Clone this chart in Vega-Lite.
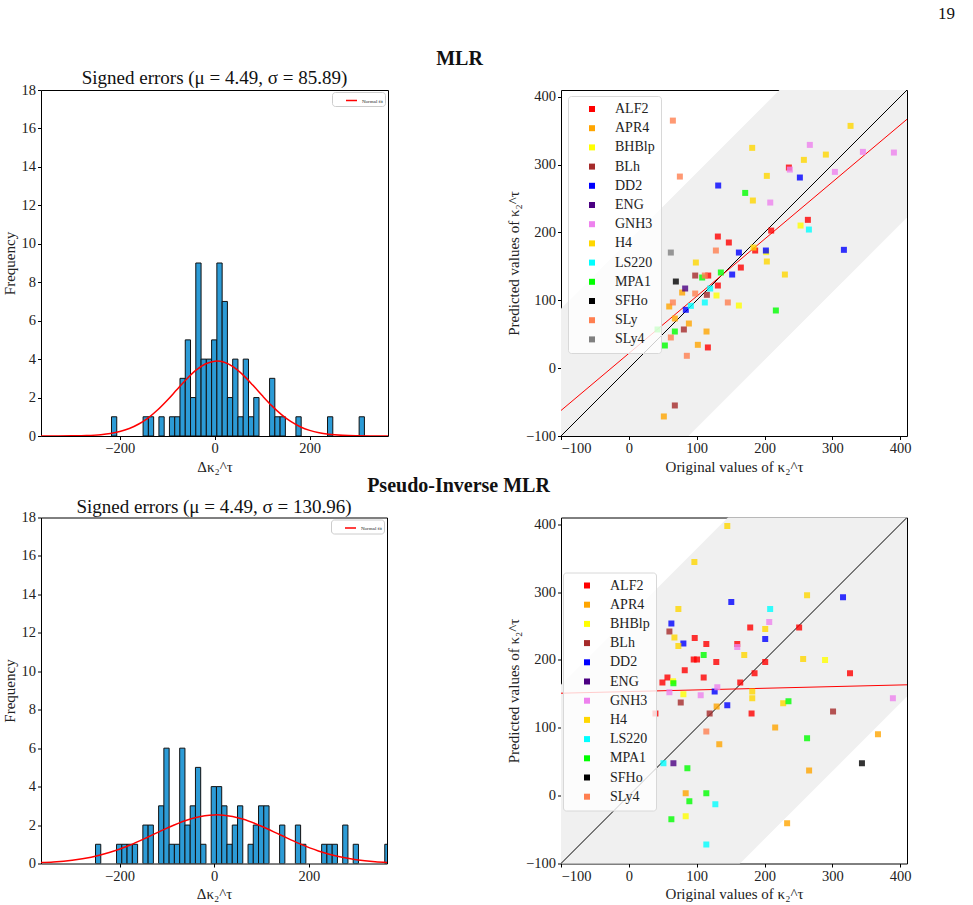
{
  "$schema": "https://vega.github.io/schema/vega-lite/v6.json",
  "background": "white",
  "autosize": {"type": "none"},
  "padding": {"left": 41, "top": 90, "right": 932, "bottom": 815},
  "title": {"text": "19", "anchor": "end", "frame": "group", "fontSize": 17, "fontWeight": "normal", "dx": 914, "dy": -21},
  "datasets": {
    "hist_mlr": [
      {"b0": -217.5, "b1": -206.4, "n": 1}, {"b0": -150.9, "b1": -139.8, "n": 1}, {"b0": -139.8, "b1": -128.7, "n": 1},
      {"b0": -117.6, "b1": -106.5, "n": 1}, {"b0": -95.4, "b1": -84.3, "n": 1}, {"b0": -84.3, "b1": -73.2, "n": 1},
      {"b0": -73.2, "b1": -62.1, "n": 3}, {"b0": -62.1, "b1": -51.0, "n": 5}, {"b0": -51.0, "b1": -39.9, "n": 2},
      {"b0": -39.9, "b1": -28.8, "n": 9}, {"b0": -28.8, "b1": -17.7, "n": 4}, {"b0": -17.7, "b1": -6.6, "n": 4},
      {"b0": -6.6, "b1": 4.5, "n": 5}, {"b0": 4.5, "b1": 15.6, "n": 9}, {"b0": 15.6, "b1": 26.7, "n": 7},
      {"b0": 26.7, "b1": 37.8, "n": 2}, {"b0": 37.8, "b1": 48.9, "n": 4}, {"b0": 48.9, "b1": 60.0, "n": 1},
      {"b0": 60.0, "b1": 71.1, "n": 4}, {"b0": 71.1, "b1": 82.2, "n": 1}, {"b0": 82.2, "b1": 93.3, "n": 2},
      {"b0": 115.5, "b1": 126.6, "n": 3}, {"b0": 126.6, "b1": 137.7, "n": 1}, {"b0": 137.7, "b1": 148.8, "n": 1},
      {"b0": 171.0, "b1": 182.1, "n": 1}, {"b0": 237.6, "b1": 248.7, "n": 1}, {"b0": 304.2, "b1": 315.3, "n": 1}
    ],
    "fit_mlr": [
      {"x": -366, "y": 0.0004, "series": "Normal fit"}, {"x": -330, "y": 0.002, "series": "Normal fit"},
      {"x": -300, "y": 0.0073, "series": "Normal fit"}, {"x": -270, "y": 0.0236, "series": "Normal fit"},
      {"x": -240, "y": 0.068, "series": "Normal fit"}, {"x": -220, "y": 0.128, "series": "Normal fit"},
      {"x": -200, "y": 0.229, "series": "Normal fit"}, {"x": -180, "y": 0.388, "series": "Normal fit"},
      {"x": -160, "y": 0.623, "series": "Normal fit"}, {"x": -140, "y": 0.948, "series": "Normal fit"},
      {"x": -120, "y": 1.364, "series": "Normal fit"}, {"x": -100, "y": 1.861, "series": "Normal fit"},
      {"x": -80, "y": 2.404, "series": "Normal fit"}, {"x": -60, "y": 2.942, "series": "Normal fit"},
      {"x": -40, "y": 3.41, "series": "Normal fit"}, {"x": -20, "y": 3.744, "series": "Normal fit"},
      {"x": 0, "y": 3.895, "series": "Normal fit"}, {"x": 4.5, "y": 3.9, "series": "Normal fit"},
      {"x": 20, "y": 3.837, "series": "Normal fit"}, {"x": 40, "y": 3.581, "series": "Normal fit"},
      {"x": 60, "y": 3.166, "series": "Normal fit"}, {"x": 80, "y": 2.651, "series": "Normal fit"},
      {"x": 100, "y": 2.102, "series": "Normal fit"}, {"x": 120, "y": 1.579, "series": "Normal fit"},
      {"x": 140, "y": 1.124, "series": "Normal fit"}, {"x": 160, "y": 0.757, "series": "Normal fit"},
      {"x": 180, "y": 0.483, "series": "Normal fit"}, {"x": 200, "y": 0.292, "series": "Normal fit"},
      {"x": 220, "y": 0.167, "series": "Normal fit"}, {"x": 240, "y": 0.091, "series": "Normal fit"},
      {"x": 270, "y": 0.033, "series": "Normal fit"}, {"x": 300, "y": 0.0105, "series": "Normal fit"},
      {"x": 330, "y": 0.003, "series": "Normal fit"}, {"x": 365, "y": 0.0006, "series": "Normal fit"}
    ],
    "hist_pinv": [
      {"b0": -250.8, "b1": -239.7, "n": 1}, {"b0": -206.4, "b1": -195.3, "n": 1}, {"b0": -195.3, "b1": -184.2, "n": 1},
      {"b0": -184.2, "b1": -173.0, "n": 1}, {"b0": -173.0, "b1": -161.9, "n": 1}, {"b0": -150.8, "b1": -139.7, "n": 2},
      {"b0": -139.7, "b1": -128.6, "n": 2}, {"b0": -117.5, "b1": -106.4, "n": 3}, {"b0": -106.4, "b1": -95.3, "n": 6},
      {"b0": -95.3, "b1": -84.2, "n": 1}, {"b0": -84.2, "b1": -73.0, "n": 1}, {"b0": -73.0, "b1": -61.9, "n": 6},
      {"b0": -61.9, "b1": -50.8, "n": 2}, {"b0": -50.8, "b1": -39.7, "n": 3}, {"b0": -39.7, "b1": -28.6, "n": 5},
      {"b0": -28.6, "b1": -17.5, "n": 1}, {"b0": -6.4, "b1": 4.7, "n": 4}, {"b0": 4.7, "b1": 15.8, "n": 4},
      {"b0": 15.8, "b1": 26.9, "n": 3}, {"b0": 26.9, "b1": 38.1, "n": 1}, {"b0": 38.1, "b1": 49.2, "n": 2},
      {"b0": 49.2, "b1": 60.3, "n": 3}, {"b0": 71.4, "b1": 82.5, "n": 1}, {"b0": 82.5, "b1": 93.6, "n": 2},
      {"b0": 93.6, "b1": 104.7, "n": 3}, {"b0": 104.7, "b1": 115.8, "n": 3}, {"b0": 138.1, "b1": 149.2, "n": 2},
      {"b0": 171.4, "b1": 182.5, "n": 2}, {"b0": 182.5, "b1": 193.6, "n": 1}, {"b0": 226.9, "b1": 238.0, "n": 1},
      {"b0": 238.0, "b1": 249.2, "n": 1}, {"b0": 249.2, "b1": 260.3, "n": 1}, {"b0": 271.4, "b1": 282.5, "n": 2},
      {"b0": 293.6, "b1": 304.7, "n": 1}, {"b0": 360.3, "b1": 371.4, "n": 1}
    ],
    "fit_pinv": [
      {"x": -366, "y": 0.046, "series": "Normal fit"}, {"x": -340, "y": 0.0795, "series": "Normal fit"},
      {"x": -300, "y": 0.17, "series": "Normal fit"}, {"x": -260, "y": 0.329, "series": "Normal fit"},
      {"x": -220, "y": 0.582, "series": "Normal fit"}, {"x": -180, "y": 0.938, "series": "Normal fit"},
      {"x": -140, "y": 1.376, "series": "Normal fit"}, {"x": -100, "y": 1.84, "series": "Normal fit"},
      {"x": -60, "y": 2.241, "series": "Normal fit"}, {"x": -20, "y": 2.486, "series": "Normal fit"},
      {"x": 0, "y": 2.528, "series": "Normal fit"}, {"x": 4.5, "y": 2.53, "series": "Normal fit"},
      {"x": 20, "y": 2.512, "series": "Normal fit"}, {"x": 60, "y": 2.313, "series": "Normal fit"},
      {"x": 100, "y": 1.939, "series": "Normal fit"}, {"x": 140, "y": 1.482, "series": "Normal fit"},
      {"x": 180, "y": 1.031, "series": "Normal fit"}, {"x": 220, "y": 0.653, "series": "Normal fit"},
      {"x": 260, "y": 0.377, "series": "Normal fit"}, {"x": 300, "y": 0.198, "series": "Normal fit"},
      {"x": 340, "y": 0.095, "series": "Normal fit"}, {"x": 365, "y": 0.057, "series": "Normal fit"}
    ],
    "band_mlr": [{"x": -100, "lo": -288, "hi": 88}, {"x": 410, "lo": 222, "hi": 598}],
    "band_pinv": [{"x": -100, "lo": -364, "hi": 164}, {"x": 410, "lo": 146, "hi": 674}],
    "diag": [{"x": -100, "y": -100}, {"x": 410, "y": 410}],
    "reg_mlr": [{"x": -100, "y": -62.4}, {"x": 410, "y": 366.9}],
    "reg_pinv": [{"x": -100, "y": 151.0}, {"x": 410, "y": 163.4}],
    "pts_mlr": [
      {"eos": "ALF2", "x": 235.9, "y": 295.7}, {"eos": "ALF2", "x": 263.9, "y": 218.6}, {"eos": "ALF2", "x": 209.8, "y": 202.8},
      {"eos": "ALF2", "x": 131.2, "y": 194.0}, {"eos": "ALF2", "x": 147.4, "y": 185.2}, {"eos": "ALF2", "x": 186.2, "y": 173.4},
      {"eos": "ALF2", "x": 165.1, "y": 148.3}, {"eos": "ALF2", "x": 117.0, "y": 136.5}, {"eos": "ALF2", "x": 131.2, "y": 121.8},
      {"eos": "ALF2", "x": 116.5, "y": 30.5},
      {"eos": "APR4", "x": 78.6, "y": 111.5}, {"eos": "APR4", "x": 59.5, "y": 90.9}, {"eos": "APR4", "x": 67.8, "y": 73.2},
      {"eos": "APR4", "x": 88.5, "y": 65.8}, {"eos": "APR4", "x": 114.5, "y": 54.0}, {"eos": "APR4", "x": 101.7, "y": 34.4},
      {"eos": "APR4", "x": 51.6, "y": -71.2},
      {"eos": "BHBlp", "x": 253.1, "y": 210.2}, {"eos": "BHBlp", "x": 129.2, "y": 107.1}, {"eos": "BHBlp", "x": 162.2, "y": 92.3},
      {"eos": "BHBlp", "x": 202.5, "y": 171.0},
      {"eos": "BLh", "x": 97.8, "y": 136.5}, {"eos": "BLh", "x": 115.0, "y": 108.1}, {"eos": "BLh", "x": 81.1, "y": 57.0},
      {"eos": "BLh", "x": 67.8, "y": -55.0},
      {"eos": "DD2", "x": 131.7, "y": 269.2}, {"eos": "DD2", "x": 252.1, "y": 281.0}, {"eos": "DD2", "x": 162.2, "y": 170.4},
      {"eos": "DD2", "x": 202.0, "y": 173.4}, {"eos": "DD2", "x": 152.3, "y": 138.0}, {"eos": "DD2", "x": 84.0, "y": 86.0},
      {"eos": "DD2", "x": 317.0, "y": 174.4},
      {"eos": "ENG", "x": 83.0, "y": 117.4},
      {"eos": "GNH3", "x": 266.8, "y": 329.1}, {"eos": "GNH3", "x": 237.3, "y": 292.7}, {"eos": "GNH3", "x": 345.0, "y": 318.8},
      {"eos": "GNH3", "x": 390.7, "y": 317.8}, {"eos": "GNH3", "x": 303.7, "y": 289.3}, {"eos": "GNH3", "x": 208.4, "y": 244.1},
      {"eos": "H4", "x": 326.8, "y": 357.1}, {"eos": "H4", "x": 181.8, "y": 324.7}, {"eos": "H4", "x": 258.0, "y": 307.0},
      {"eos": "H4", "x": 290.4, "y": 314.8}, {"eos": "H4", "x": 203.4, "y": 283.4}, {"eos": "H4", "x": 182.8, "y": 247.1},
      {"eos": "H4", "x": 183.8, "y": 177.8}, {"eos": "H4", "x": 98.8, "y": 155.7}, {"eos": "H4", "x": 203.4, "y": 157.2},
      {"eos": "H4", "x": 230.0, "y": 138.0},
      {"eos": "LS220", "x": 265.4, "y": 204.3}, {"eos": "LS220", "x": 119.9, "y": 117.4}, {"eos": "LS220", "x": 112.0, "y": 96.8},
      {"eos": "LS220", "x": 91.4, "y": 91.8},
      {"eos": "MPA1", "x": 171.5, "y": 258.3}, {"eos": "MPA1", "x": 135.6, "y": 141.0}, {"eos": "MPA1", "x": 108.1, "y": 133.6},
      {"eos": "MPA1", "x": 216.7, "y": 85.0}, {"eos": "MPA1", "x": 42.3, "y": 57.0}, {"eos": "MPA1", "x": 67.8, "y": 54.0},
      {"eos": "MPA1", "x": 53.1, "y": 33.4},
      {"eos": "SFHo", "x": 69.3, "y": 127.7},
      {"eos": "SLy", "x": 64.9, "y": 364.9}, {"eos": "SLy", "x": 75.2, "y": 282.4}, {"eos": "SLy", "x": 128.3, "y": 173.4},
      {"eos": "SLy", "x": 112.0, "y": 136.5}, {"eos": "SLy", "x": 97.8, "y": 110.0}, {"eos": "SLy", "x": 64.9, "y": 96.8},
      {"eos": "SLy", "x": 145.9, "y": 96.8}, {"eos": "SLy", "x": 61.9, "y": 45.2}, {"eos": "SLy", "x": 85.5, "y": 18.2},
      {"eos": "SLy4", "x": 61.9, "y": 170.4}
    ],
    "pts_pinv": [
      {"eos": "ALF2", "x": 251.0, "y": 248.0}, {"eos": "ALF2", "x": 178.9, "y": 248.0}, {"eos": "ALF2", "x": 97.1, "y": 232.3},
      {"eos": "ALF2", "x": 114.2, "y": 223.4}, {"eos": "ALF2", "x": 159.8, "y": 223.4}, {"eos": "ALF2", "x": 95.6, "y": 200.8},
      {"eos": "ALF2", "x": 100.5, "y": 200.8}, {"eos": "ALF2", "x": 128.9, "y": 196.9}, {"eos": "ALF2", "x": 201.0, "y": 196.9},
      {"eos": "ALF2", "x": 82.4, "y": 185.0}, {"eos": "ALF2", "x": 185.3, "y": 180.6}, {"eos": "ALF2", "x": 326.0, "y": 180.6},
      {"eos": "ALF2", "x": 49.5, "y": 166.8}, {"eos": "ALF2", "x": 56.9, "y": 174.2}, {"eos": "ALF2", "x": 110.3, "y": 174.2},
      {"eos": "ALF2", "x": 164.2, "y": 166.8}, {"eos": "ALF2", "x": 39.2, "y": 121.1}, {"eos": "ALF2", "x": 180.9, "y": 121.1},
      {"eos": "APR4", "x": 129.4, "y": 131.4}, {"eos": "APR4", "x": 215.7, "y": 100.4}, {"eos": "APR4", "x": 133.3, "y": 75.8},
      {"eos": "APR4", "x": 367.2, "y": 90.6}, {"eos": "APR4", "x": 265.7, "y": 36.9}, {"eos": "APR4", "x": 83.8, "y": 3.4},
      {"eos": "APR4", "x": 233.3, "y": -40.8},
      {"eos": "BHBlp", "x": 289.2, "y": 199.8}, {"eos": "BHBlp", "x": 80.4, "y": 149.6}, {"eos": "BHBlp", "x": 83.8, "y": -30.5},
      {"eos": "BHBlp", "x": 65.2, "y": 168.8},
      {"eos": "BLh", "x": 59.8, "y": 242.1}, {"eos": "BLh", "x": 76.5, "y": 137.3}, {"eos": "BLh", "x": 119.1, "y": 121.1},
      {"eos": "BLh", "x": 301.0, "y": 124.0},
      {"eos": "DD2", "x": 151.0, "y": 285.4}, {"eos": "DD2", "x": 315.7, "y": 292.3}, {"eos": "DD2", "x": 62.7, "y": 253.9},
      {"eos": "DD2", "x": 80.4, "y": 224.4}, {"eos": "DD2", "x": 201.0, "y": 230.8}, {"eos": "DD2", "x": 126.5, "y": 153.5},
      {"eos": "DD2", "x": 145.1, "y": 133.4},
      {"eos": "ENG", "x": 65.7, "y": 47.7},
      {"eos": "GNH3", "x": 206.9, "y": 255.9}, {"eos": "GNH3", "x": 159.8, "y": 219.0}, {"eos": "GNH3", "x": 130.4, "y": 159.9},
      {"eos": "GNH3", "x": 59.8, "y": 152.6}, {"eos": "GNH3", "x": 105.9, "y": 148.1}, {"eos": "GNH3", "x": 389.2, "y": 143.7},
      {"eos": "H4", "x": 145.1, "y": 397.6}, {"eos": "H4", "x": 96.6, "y": 344.5}, {"eos": "H4", "x": 262.7, "y": 295.3},
      {"eos": "H4", "x": 73.0, "y": 275.1}, {"eos": "H4", "x": 201.0, "y": 245.6}, {"eos": "H4", "x": 67.2, "y": 233.3},
      {"eos": "H4", "x": 73.0, "y": 220.5}, {"eos": "H4", "x": 170.1, "y": 207.2}, {"eos": "H4", "x": 256.9, "y": 201.3},
      {"eos": "H4", "x": 181.9, "y": 153.5}, {"eos": "H4", "x": 181.9, "y": 143.7}, {"eos": "H4", "x": 227.5, "y": 136.3},
      {"eos": "LS220", "x": 208.3, "y": 275.1}, {"eos": "LS220", "x": 51.0, "y": 47.7}, {"eos": "LS220", "x": 127.5, "y": -12.8},
      {"eos": "LS220", "x": 114.2, "y": -71.9},
      {"eos": "MPA1", "x": 110.3, "y": 207.2}, {"eos": "MPA1", "x": 65.7, "y": 165.8}, {"eos": "MPA1", "x": 235.3, "y": 139.3},
      {"eos": "MPA1", "x": 262.7, "y": 84.6}, {"eos": "MPA1", "x": 86.3, "y": 40.4}, {"eos": "MPA1", "x": 114.2, "y": 3.4},
      {"eos": "MPA1", "x": 89.2, "y": -8.4}, {"eos": "MPA1", "x": 62.7, "y": -34.9},
      {"eos": "SFHo", "x": 343.6, "y": 47.7},
      {"eos": "SLy4", "x": 114.2, "y": 94.5}
    ]
  },
  "columns": 2,
  "spacing": {"row": 81.5, "column": 173},
  "bounds": "flush",
  "resolve": {
    "scale": {"color": "independent", "stroke": "independent"},
    "legend": {"color": "independent", "stroke": "independent"}
  },
  "concat": [
    {
      "width": 347,
      "height": 346,
      "title": {"text": "Signed errors (μ = 4.49, σ = 85.89)", "frame": "group", "offset": 0, "dy": 6},
      "layer": [
        {
          "data": {"name": "hist_mlr"},
          "mark": {"type": "rect", "fill": "#2C9BD6", "stroke": "#111111", "strokeWidth": 1, "clip": true},
          "encoding": {
            "x": {"field": "b0", "type": "quantitative", "scale": {"domain": [-366, 365], "nice": false, "zero": false}, "axis": {"values": [-200, 0, 200], "title": "Δκ₂^τ", "labelOverlap": false}},
            "x2": {"field": "b1"},
            "y": {"field": "n", "type": "quantitative", "scale": {"domain": [0, 18], "nice": false}, "axis": {"values": [0, 2, 4, 6, 8, 10, 12, 14, 16, 18], "title": "Frequency", "labelOverlap": false}},
            "y2": {"datum": 0}
          }
        },
        {
          "data": {"name": "fit_mlr"},
          "mark": {"type": "line", "strokeWidth": 1.5, "interpolate": "monotone", "clip": true},
          "encoding": {
            "x": {"field": "x", "type": "quantitative", "axis": {"values": [-200, 0, 200], "title": "Δκ₂^τ", "labelOverlap": false}},
            "y": {"field": "y", "type": "quantitative", "axis": {"values": [0, 2, 4, 6, 8, 10, 12, 14, 16, 18], "title": "Frequency", "labelOverlap": false}},
            "stroke": {
              "field": "series", "type": "nominal",
              "scale": {"range": ["#FF0000"]},
              "legend": {"orient": "none", "legendX": 291, "legendY": 2, "title": null, "symbolType": "stroke", "symbolSize": 121, "symbolStrokeWidth": 1.5, "labelFontSize": 5, "labelOffset": 4, "padding": 2, "fillColor": "white", "strokeColor": "#cccccc"}
            }
          }
        }
      ]
    },
    {
      "width": 346,
      "height": 346,
      "title": {"text": "MLR", "frame": "group", "anchor": "middle", "fontWeight": "bold", "fontSize": 20, "dx": -274.5, "offset": 20},
      "layer": [
        {
          "data": {"name": "band_mlr"},
          "mark": {"type": "area", "color": "#F0F0F0", "opacity": 1, "clip": true},
          "encoding": {
            "x": {"field": "x", "type": "quantitative", "scale": {"domain": [-100, 410], "nice": false, "zero": false}, "axis": {"values": [-100, 0, 100, 200, 300, 400], "title": "Original values of κ₂^τ"}},
            "y": {"field": "lo", "type": "quantitative", "scale": {"domain": [-100, 410], "nice": false, "zero": false}, "axis": {"values": [-100, 0, 100, 200, 300, 400], "title": "Predicted values of κ₂^τ"}},
            "y2": {"field": "hi"}
          }
        },
        {
          "data": {"name": "diag"},
          "mark": {"type": "line", "color": "#000000", "strokeWidth": 1, "clip": true},
          "encoding": {
            "x": {"field": "x", "type": "quantitative", "axis": {"title": "Original values of κ₂^τ"}},
            "y": {"field": "y", "type": "quantitative", "axis": {"title": "Predicted values of κ₂^τ"}}
          }
        },
        {
          "data": {"name": "reg_mlr"},
          "mark": {"type": "line", "color": "#FF0000", "strokeWidth": 1, "clip": true},
          "encoding": {
            "x": {"field": "x", "type": "quantitative", "axis": {"title": "Original values of κ₂^τ"}},
            "y": {"field": "y", "type": "quantitative", "axis": {"title": "Predicted values of κ₂^τ"}}
          }
        },
        {
          "data": {"name": "pts_mlr"},
          "mark": {"type": "square", "size": 36, "opacity": 0.8, "clip": true},
          "encoding": {
            "x": {"field": "x", "type": "quantitative", "axis": {"title": "Original values of κ₂^τ"}},
            "y": {"field": "y", "type": "quantitative", "axis": {"title": "Predicted values of κ₂^τ"}},
            "color": {
              "field": "eos", "type": "nominal",
              "scale": {
                "domain": ["ALF2", "APR4", "BHBlp", "BLh", "DD2", "ENG", "GNH3", "H4", "LS220", "MPA1", "SFHo", "SLy", "SLy4"],
                "range": ["#FF0000", "#FFA500", "#FFFF00", "#A52A2A", "#0000FF", "#4B0082", "#EE82EE", "#FFD700", "#00FFFF", "#00FF00", "#000000", "#FF7F50", "#808080"]
              },
              "legend": {"orient": "none", "legendX": 7, "legendY": 6}
            }
          }
        }
      ]
    },
    {
      "width": 346,
      "height": 346,
      "title": {"text": "Signed errors (μ = 4.49, σ = 130.96)", "frame": "group", "offset": 0, "dy": 7},
      "layer": [
        {
          "data": {"name": "hist_pinv"},
          "mark": {"type": "rect", "fill": "#2C9BD6", "stroke": "#111111", "strokeWidth": 1, "clip": true},
          "encoding": {
            "x": {"field": "b0", "type": "quantitative", "scale": {"domain": [-366, 365], "nice": false, "zero": false}, "axis": {"values": [-200, 0, 200], "title": "Δκ₂^τ", "labelOverlap": false}},
            "x2": {"field": "b1"},
            "y": {"field": "n", "type": "quantitative", "scale": {"domain": [0, 18], "nice": false}, "axis": {"values": [0, 2, 4, 6, 8, 10, 12, 14, 16, 18], "title": "Frequency", "labelOverlap": false}},
            "y2": {"datum": 0}
          }
        },
        {
          "data": {"name": "fit_pinv"},
          "mark": {"type": "line", "strokeWidth": 1.5, "interpolate": "monotone", "clip": true},
          "encoding": {
            "x": {"field": "x", "type": "quantitative", "axis": {"values": [-200, 0, 200], "title": "Δκ₂^τ", "labelOverlap": false}},
            "y": {"field": "y", "type": "quantitative", "axis": {"values": [0, 2, 4, 6, 8, 10, 12, 14, 16, 18], "title": "Frequency", "labelOverlap": false}},
            "stroke": {
              "field": "series", "type": "nominal",
              "scale": {"range": ["#FF0000"]},
              "legend": {"orient": "none", "legendX": 290, "legendY": 2, "title": null, "symbolType": "stroke", "symbolSize": 121, "symbolStrokeWidth": 1.5, "labelFontSize": 5, "labelOffset": 4, "padding": 2, "fillColor": "white", "strokeColor": "#cccccc"}
            }
          }
        }
      ]
    },
    {
      "width": 346,
      "height": 346,
      "title": {"text": "Pseudo-Inverse MLR", "frame": "group", "anchor": "middle", "fontWeight": "bold", "fontSize": 20, "dx": -275.5, "offset": 20},
      "layer": [
        {
          "data": {"name": "band_pinv"},
          "mark": {"type": "area", "color": "#F0F0F0", "opacity": 1, "clip": true},
          "encoding": {
            "x": {"field": "x", "type": "quantitative", "scale": {"domain": [-100, 410], "nice": false, "zero": false}, "axis": {"values": [-100, 0, 100, 200, 300, 400], "title": "Original values of κ₂^τ"}},
            "y": {"field": "lo", "type": "quantitative", "scale": {"domain": [-100, 410], "nice": false, "zero": false}, "axis": {"values": [-100, 0, 100, 200, 300, 400], "title": "Predicted values of κ₂^τ"}},
            "y2": {"field": "hi"}
          }
        },
        {
          "data": {"name": "diag"},
          "mark": {"type": "line", "color": "#000000", "strokeWidth": 1, "clip": true},
          "encoding": {
            "x": {"field": "x", "type": "quantitative", "axis": {"title": "Original values of κ₂^τ"}},
            "y": {"field": "y", "type": "quantitative", "axis": {"title": "Predicted values of κ₂^τ"}}
          }
        },
        {
          "data": {"name": "reg_pinv"},
          "mark": {"type": "line", "color": "#FF0000", "strokeWidth": 1, "clip": true},
          "encoding": {
            "x": {"field": "x", "type": "quantitative", "axis": {"title": "Original values of κ₂^τ"}},
            "y": {"field": "y", "type": "quantitative", "axis": {"title": "Predicted values of κ₂^τ"}}
          }
        },
        {
          "data": {"name": "pts_pinv"},
          "mark": {"type": "square", "size": 36, "opacity": 0.8, "clip": true},
          "encoding": {
            "x": {"field": "x", "type": "quantitative", "axis": {"title": "Original values of κ₂^τ"}},
            "y": {"field": "y", "type": "quantitative", "axis": {"title": "Predicted values of κ₂^τ"}},
            "color": {
              "field": "eos", "type": "nominal",
              "scale": {
                "domain": ["ALF2", "APR4", "BHBlp", "BLh", "DD2", "ENG", "GNH3", "H4", "LS220", "MPA1", "SFHo", "SLy4"],
                "range": ["#FF0000", "#FFA500", "#FFFF00", "#A52A2A", "#0000FF", "#4B0082", "#EE82EE", "#FFD700", "#00FFFF", "#00FF00", "#000000", "#FF7F50"]
              },
              "legend": {"orient": "none", "legendX": 2, "legendY": 55}
            }
          }
        }
      ]
    }
  ],
  "config": {
    "font": "Liberation Serif",
    "view": {"stroke": "#000000", "strokeWidth": 1},
    "axis": {
      "labelFont": "Liberation Serif", "labelFontSize": 14.5, "labelColor": "#222222", "labelPadding": 2, "labelOverlap": false,
      "titleFont": "Liberation Serif", "titleFontSize": 15, "titleFontWeight": "normal", "titleColor": "#222222",
      "tickColor": "#000000", "tickSize": 3.5, "tickWidth": 1, "grid": false, "domain": false
    },
    "title": {"font": "Liberation Serif", "fontSize": 19, "fontWeight": "normal", "color": "#111111"},
    "legend": {
      "title": null, "symbolType": "square", "symbolSize": 36, "symbolOpacity": 1, "symbolStrokeWidth": 0,
      "labelFont": "Liberation Serif", "labelFontSize": 14, "labelColor": "#222222",
      "rowPadding": 5.2, "padding": 6, "symbolOffset": 11, "labelOffset": 16,
      "fillColor": "rgba(255,255,255,0.8)", "strokeColor": "#d8d8d8", "cornerRadius": 3
    }
  }
}
